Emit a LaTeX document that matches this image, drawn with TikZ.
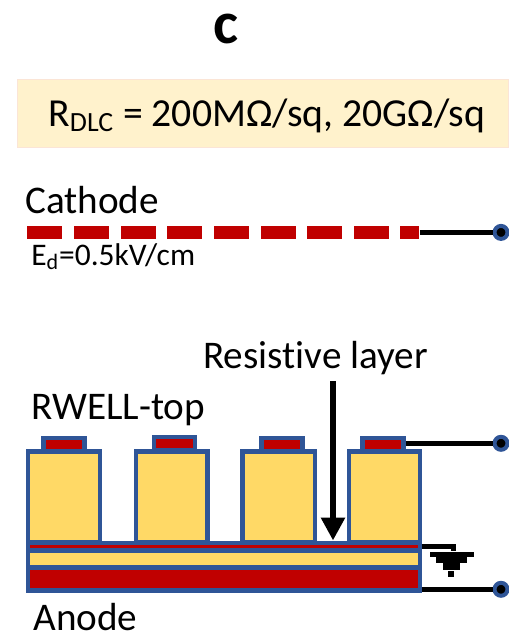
\documentclass[tikz,border=0pt]{standalone}
\usepackage{fontspec}
\setmainfont[Ligatures=NoCommon]{Carlito}
\usepackage{xcolor}
\usetikzlibrary{arrows.meta,positioning}
\definecolor{frameblue}{HTML}{2F5597}
\definecolor{layerred}{HTML}{C00000}
\definecolor{layeryellow}{HTML}{FFD966}
\definecolor{bannerfill}{HTML}{FFF2CC}
\definecolor{bannerline}{HTML}{FBE5D6}

\begin{document}
\begin{tikzpicture}[
    x=0.02cm,y=-0.02cm,
    labeltext/.style={
        anchor=base west,
        inner sep=0pt,
        font=\fontsize{22.3}{26}\selectfont},
    banner/.style={
        rectangle, % shape
        minimum width=9.82cm,
        minimum height=1.36cm,
        line width=0.5pt,
        draw=bannerline,
        fill=bannerfill},
    pillar/.style={
        rectangle,
        minimum height=1.81cm,
        line width=0.09cm, %border
        draw=frameblue,
        fill=layeryellow},
    padtop/.style={
        rectangle,
        minimum width=0.82cm,
        line width=0.09cm,
        draw=frameblue,
        fill=layerred},
    layer/.style={
        rectangle,
        minimum width=7.75cm,
        inner sep=0pt,
        fill=#1},
    dashbar/.style={
        rectangle,
        minimum height=0.25cm,
        inner sep=0pt,
        fill=layerred},
    terminal/.style={
        circle,
        minimum size=0.26cm,
        inner sep=0pt,
        line width=0.08cm,
        draw=frameblue,
        fill=black},
    wire/.style={line width=0.1cm,black},
    gndbar/.style={
        rectangle,
        inner sep=0pt,
        fill=black}
  ]
  \useasboundingbox (0,0) rectangle (508,635);

  \node (panel) [labeltext,anchor=base,font=\bfseries\fontsize{34}{40}\selectfont] at (225.5,43.5) {c};
  \node (rdlc) [banner] at (262.5,113.3) {};
  \node (rtext) [labeltext,font=\fontsize{22.6}{26}\selectfont] at (48,126) {R\textsubscript{DLC} = 200MΩ/sq, 20GΩ/sq};

  % drift cathode
  \node (cathode) [labeltext] at (25,213.5) {Cathode};
  \foreach \n/\x in {1/44.8,2/91.4,3/138.1,4/184.8,5/231.4,6/278.1,7/324.7,8/371.4}
    \node (dash\n) [dashbar,minimum width=0.7cm] at (\x,232.4) {};
  \node (dash9) [dashbar,minimum width=0.39cm] at (409.7,232.4) {};
  \node (field) [labeltext,font=\fontsize{17.9}{21}\selectfont] at (31,265) {E\textsubscript{d}=0.5kV/cm};

  \node (resist) [labeltext] at (203,368) {Resistive layer};
  \node (rwell) [labeltext] at (31,419) {RWELL-top};
  \node (anode) [labeltext] at (33,630) {Anode};

  % terminals on the right
  \node (termC) [terminal] at (501,232.4) {};
  \node (termT) [terminal] at (501,443.3) {};
  \node (termA) [terminal] at (501,589.3) {};

  % base with its layers
  \node (base) [rectangle,minimum width=7.84cm,minimum height=0.95cm,line width=0.09cm,draw=frameblue,fill=frameblue] at (224,566.5) {};
  \node (thinred) [layer=layerred,minimum height=0.07cm] at (224,546.7) {};
  \node (midyellow) [layer=layeryellow,minimum height=0.24cm] at (224,559) {};
  \node (thickred) [layer=layerred,minimum height=0.36cm] at (224,578.7) {};

  % pillars with their pads
  \foreach \n/\x/\w/\px/\py in {1/64/1.44cm/64/444.7,2/171.7/1.43cm/174.7/443.6,3/278.7/1.45cm/282/444.7,4/384.5/1.42cm/383/444.7}{
    \node (pad\n) [padtop,minimum height=0.26cm] at (\px,\py) {};
    \node (pillar\n) [pillar,minimum width=\w] at (\x,496.7) {};
  }

  % connectors
  \draw [wire] (dash9.east) -- (termC);
  \draw [wire] (pad4.east |- termT) -- (termT);
  \draw [wire] (base.east |- termA) -- (termA);

  \coordinate (arrowtop) at (333,381);
  \draw [line width=0.12cm,-{Triangle[length=0.46cm,width=0.46cm]}] (arrowtop) -- (arrowtop |- base.north);

  % ground symbol
  \coordinate (gndstart) at (421.7,546.7);
  \node (gnd1) [gndbar,minimum width=0.89cm,minimum height=0.11cm] at (452.2,554.3) {};
  \node (gnd2) [gndbar,minimum width=0.63cm,minimum height=0.13cm] at (451.5,560) {};
  \node (gnd3) [gndbar,minimum width=0.33cm,minimum height=0.14cm] at (451.6,566) {};
  \node (gnd4) [gndbar,minimum width=0.13cm,minimum height=0.12cm] at (451.2,574.2) {};
  \draw [wire] (gndstart) -| (gnd1.north -| 453.2,0);
\end{tikzpicture}
\end{document}
